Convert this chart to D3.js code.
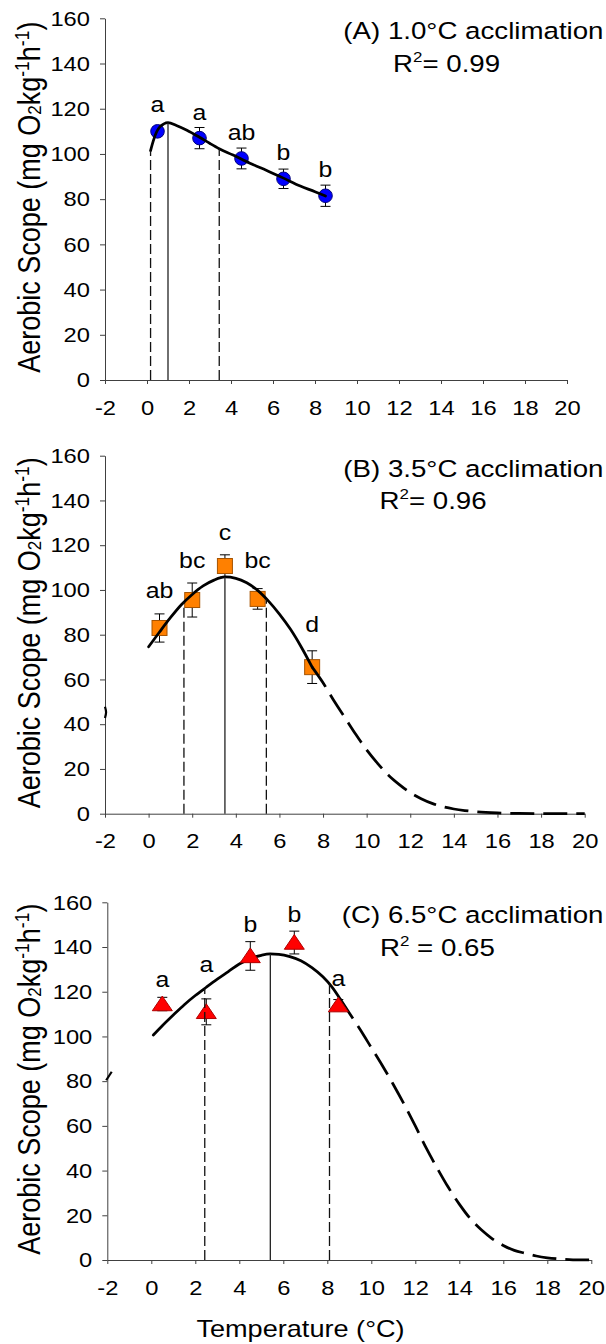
<!DOCTYPE html>
<html>
<head>
<meta charset="utf-8">
<script src="https://cdn.jsdelivr.net/npm/d3@7"></script>
<style>
  html, body { margin: 0; padding: 0; background: #fff; }
  svg { display: block; }
</style>
</head>
<body>
<svg id="chart" width="606" height="1344"></svg>
<script>
// ---------- axis ticks ----------
const tempTicks = [-2, 0, 2, 4, 6, 8, 10, 12, 14, 16, 18, 20];
const scopeTicks = [0, 20, 40, 60, 80, 100, 120, 140, 160];

// ---------- panel texts ----------
const panelTitles = ["(A) 1.0°C acclimation", "(B) 3.5°C acclimation", "(C) 6.5°C acclimation"];
const rSquared = ["0.99", "0.96", "0.65"];

// ---------- (A) 1.0 °C acclimation ----------
const tempA = [0.5, 2.5, 4.5, 6.5, 8.5];
const scopeA = [110, 107, 98, 89, 81.5];
const errA = [2, 4.7, 4.6, 4.3, 4.7];
const lettersA = ["a", "a", "ab", "b", "b"];
const letterAtA = [118.7, 115, 106.2, 97.3, 89.7];
const fitA = [[0.17, 101.5], [0.3, 105.8], [0.46, 109.8], [0.62, 112.1], [0.8, 113.3], [1.0, 113.8],
  [1.4, 112.6], [1.9, 110.5], [2.5, 107.4], [3.0, 104.6], [3.44, 102.3], [4.1, 99.5], [4.9, 95.9],
  [5.7, 92.7], [6.5, 89.3], [7.3, 85.8], [8.0, 83.3], [8.5, 81.4]];
const limitsA = [0.17, 1.0, 3.44]; // lower breadth, optimum, upper breadth

// ---------- (B) 3.5 °C acclimation ----------
const tempB = [0.5, 2.0, 3.5, 5.0, 7.5];
const scopeB = [83, 95.5, 110.7, 96, 65.5];
const errB = [6.3, 7.6, 5, 4.6, 7.3];
const lettersB = ["ab", "bc", "c", "bc", "d"];
const letterAtB = [96.3, 109.7, 122.3, 109.7, 81.3];
const fitB = [[0, 74.6], [0.5, 81.2], [1.0, 87.6], [1.5, 93.4], [2.0, 98.0], [2.5, 101.8], [3.0, 104.4],
  [3.5, 105.8], [4.0, 105.2], [4.5, 103.2], [5.0, 99.8], [5.5, 95.0], [6.0, 89.2], [6.5, 82.5],
  [7.0, 74.5], [7.5, 65.5]];
const tailB = [[7.5, 65.5], [8.0, 58.5], [8.5, 50.5], [9.0, 43], [9.5, 35.5], [10.0, 28.5], [10.5, 22.5],
  [11.0, 17.2], [11.5, 13], [12.0, 9.4], [12.5, 6.7], [13.0, 4.6], [13.5, 3.1], [14.0, 2.1], [14.5, 1.4],
  [15.0, 0.9], [16.0, 0.35], [17.0, 0.1], [18.0, 0], [20.0, 0]];
const edgeB = [[-2.0, 42.8], [-1.95, 45.3], [-2.0, 47.8]];
const limitsB = [1.62, 3.5, 5.4];

// ---------- (C) 6.5 °C acclimation ----------
const tempC = [0.5, 2.5, 4.5, 6.5, 8.5];
const scopeC = [114.5, 111, 136, 142, 114];
const errC = [3, 5.8, 6.4, 5.1, 2.5];
const lettersC = ["a", "a", "b", "b", "a"];
const letterAtC = [122, 129, 146.9, 151.3, 122.6];
const fitC = [[0.09, 100.6], [0.5, 104.8], [1.0, 109.6], [1.5, 114.2], [2.0, 118.3], [2.5, 122], [3.0, 125.6],
  [3.5, 129], [4.0, 132.4], [4.5, 134.8], [5.0, 136.3], [5.4, 136.9], [5.8, 136.7], [6.3, 135.7],
  [6.8, 133.9], [7.3, 130.8], [7.8, 126.7], [8.2, 122.3], [8.57, 117]];
const tailC = [[8.57, 117], [9.0, 110.5], [9.5, 103], [10, 95], [10.5, 87], [11, 78.5], [11.5, 69.5], [12, 60],
  [12.5, 50], [13, 41], [13.5, 32.5], [14, 25], [14.5, 18.5], [15, 13.5], [15.5, 9.5], [16, 6.5],
  [16.5, 4.3], [17, 3], [17.5, 1.8], [18, 1.0], [18.5, 0.5], [19, 0.2], [19.9, 0]];
const edgeC = [[-2.05, 80.4], [-1.8, 84.2]];
const limitsC = [2.43, 5.41, 8.1];

// ---------- layout & style ----------
const FONT = '"Liberation Sans", Arial, Helvetica, sans-serif';
const SX = 1.13;          // horizontal text stretch
const AXIS = "#404040";

const panels = [
  { temps: tempA, scope: scopeA, err: errA, letters: lettersA, letterAt: letterAtA,
    fit: fitA, tail: null, edge: null, limits: limitsA, title: panelTitles[0], r2: rSquared[0], r2gap: "",
    marker: "circle", fill: "#0000ff", stroke: "#00007a",
    box: { left: 105, right: 567, top: 18.3, bottom: 380 }, r2x: 393, markersOverCurve: false },
  { temps: tempB, scope: scopeB, err: errB, letters: lettersB, letterAt: letterAtB,
    fit: fitB, tail: tailB, edge: edgeB, limits: limitsB, title: panelTitles[1], r2: rSquared[1], r2gap: "",
    marker: "square", fill: "#ff8000", stroke: "#a65300",
    box: { left: 105, right: 584.7, top: 455.7, bottom: 813.7 }, r2x: 379.5, markersOverCurve: false },
  { temps: tempC, scope: scopeC, err: errC, letters: lettersC, letterAt: letterAtC,
    fit: fitC, tail: tailC, edge: edgeC, limits: limitsC, title: panelTitles[2], r2: rSquared[2], r2gap: " ",
    marker: "triangle", fill: "#ff0000", stroke: "#b00000",
    box: { left: 107.3, right: 591.3, top: 902.3, bottom: 1260 }, r2x: 380, markersOverCurve: true }
];

// value of a fitted curve at x (linear between listed points)
function fitAt(pts, xv) {
  for (let i = 1; i < pts.length; i++) {
    if (xv <= pts[i][0]) {
      const [x0, y0] = pts[i - 1], [x1, y1] = pts[i];
      return y0 + (y1 - y0) * (xv - x0) / (x1 - x0);
    }
  }
  return pts[pts.length - 1][1];
}

const svg = d3.select("#chart");

panels.forEach(p => {
  const x = d3.scaleLinear().domain([-2, 20]).range([p.box.left, p.box.right]);
  const y = d3.scaleLinear().domain([0, 160]).range([p.box.bottom, p.box.top]);
  const g = svg.append("g");

  // axes
  const gx = g.append("g")
    .attr("transform", `translate(0,${p.box.bottom})`)
    .call(d3.axisBottom(x).tickValues(tempTicks).tickFormat(d => String(d)).tickSizeInner(4).tickSizeOuter(0));
  const gy = g.append("g")
    .attr("transform", `translate(${p.box.left},0)`)
    .call(d3.axisLeft(y).tickValues(scopeTicks).tickFormat(d => String(d)).tickSizeInner(5).tickSizeOuter(0));
  [gx, gy].forEach(a => {
    a.attr("font-family", FONT).attr("font-size", 21);
    a.select(".domain").attr("stroke", AXIS).attr("stroke-width", 1);
    a.selectAll(".tick line").attr("stroke", AXIS).attr("stroke-width", 1);
    a.selectAll(".tick text").attr("fill", "#000");
  });
  gx.selectAll(".tick text").attr("y", null).attr("dy", null)
    .attr("transform", `translate(0,34.5) scale(${SX},1)`);
  gy.selectAll(".tick text").attr("x", null)
    .attr("transform", `translate(-15,0) scale(${SX},1)`);

  // y-axis title
  const cy = (p.box.top + p.box.bottom) / 2 - 2;
  const yt = g.append("text")
    .attr("transform", `translate(39.5,${cy}) scale(${SX},1) rotate(-90)`)
    .attr("text-anchor", "middle")
    .attr("font-family", FONT).attr("font-size", 27).attr("fill", "#000");
  yt.append("tspan").text("Aerobic Scope (mg O");
  yt.append("tspan").attr("font-size", 17).attr("dy", 1).text("2");
  yt.append("tspan").attr("dy", -1).text("kg");
  yt.append("tspan").attr("font-size", 17.5).attr("dy", -9).text("-1");
  yt.append("tspan").attr("dy", 9).text("h");
  yt.append("tspan").attr("font-size", 17.5).attr("dy", -9).text("-1");
  yt.append("tspan").attr("dy", 9).text(")");

  // panel heading and R²
  g.append("text")
    .attr("transform", `translate(603.5,${p.box.top + 21}) scale(${SX},1)`)
    .attr("text-anchor", "end")
    .attr("font-family", FONT).attr("font-size", 24.5).attr("fill", "#000")
    .text(p.title);
  const rt = g.append("text")
    .attr("transform", `translate(${p.r2x},${p.box.top + 53.6}) scale(${SX},1)`)
    .attr("font-family", FONT).attr("font-size", 24.5).attr("fill", "#000");
  rt.append("tspan").text("R");
  rt.append("tspan").attr("font-size", 15).attr("dy", -10).text("2");
  rt.append("tspan").attr("dy", 10).text(`${p.r2gap}= ${p.r2}`);

  const line = d3.line().x(d => x(d[0])).y(d => y(d[1])).curve(d3.curveMonotoneX);

  const drawCurve = () => {
    g.append("path").datum(p.fit).attr("d", line)
      .attr("fill", "none").attr("stroke", "#000").attr("stroke-width", 2.75)
      .attr("stroke-linecap", "round").attr("stroke-linejoin", "round");
    if (p.tail) {
      g.append("path").datum(p.tail).attr("d", line)
        .attr("fill", "none").attr("stroke", "#000").attr("stroke-width", 2.75)
        .attr("stroke-dasharray", "24,9");
    }
    if (p.edge) {
      g.append("path").datum(p.edge)
        .attr("d", d3.line().x(d => x(d[0])).y(d => y(d[1])).curve(d3.curveCardinal))
        .attr("fill", "none").attr("stroke", "#000").attr("stroke-width", 2.2);
    }
  };

  // error bars
  const eb = g.append("g").attr("stroke", "#000").attr("stroke-width", 1);
  p.temps.forEach((t, i) => {
    const cx = x(t), yTop = y(p.scope[i] + p.err[i]), yBot = y(p.scope[i] - p.err[i]);
    eb.append("line").attr("x1", cx).attr("x2", cx).attr("y1", yTop).attr("y2", yBot);
    eb.append("line").attr("x1", cx - 5).attr("x2", cx + 5).attr("y1", yTop).attr("y2", yTop);
    eb.append("line").attr("x1", cx - 5).attr("x2", cx + 5).attr("y1", yBot).attr("y2", yBot);
  });

  if (p.markersOverCurve) drawCurve();

  // markers
  const mk = g.append("g").attr("fill", p.fill).attr("stroke", p.stroke).attr("stroke-width", 1);
  p.temps.forEach((t, i) => {
    const cx = x(t), cyv = y(p.scope[i]);
    if (p.marker === "circle") {
      mk.append("circle").attr("cx", cx).attr("cy", cyv).attr("r", 6.8);
    } else if (p.marker === "square") {
      mk.append("rect").attr("x", cx - 7.5).attr("y", cyv - 7.5).attr("width", 15).attr("height", 15);
    } else {
      mk.append("path").attr("d", `M${cx},${cyv - 8}L${cx + 10},${cyv + 6.7}L${cx - 10},${cyv + 6.7}Z`);
    }
  });

  if (!p.markersOverCurve) drawCurve();

  // optimum (solid) and breadth limits (dashed)
  p.limits.forEach((lv, i) => {
    g.append("line")
      .attr("x1", x(lv)).attr("x2", x(lv))
      .attr("y1", y(0)).attr("y2", y(fitAt(p.fit, lv)))
      .attr("stroke", i === 1 ? "#222" : "#111")
      .attr("stroke-width", i === 1 ? 1.3 : 1.3)
      .attr("stroke-dasharray", i === 1 ? null : "10,4");
  });

  // significance letters
  p.letters.forEach((s, i) => {
    g.append("text")
      .attr("transform", `translate(${x(p.temps[i])},${y(p.letterAt[i])}) scale(${SX},1)`)
      .attr("text-anchor", "middle")
      .attr("font-family", FONT).attr("font-size", 22).attr("fill", "#000")
      .text(s);
  });
});

// shared x-axis title
svg.append("text")
  .attr("transform", `translate(300.5,1337) scale(${SX},1)`)
  .attr("text-anchor", "middle")
  .attr("font-family", FONT).attr("font-size", 24).attr("fill", "#000")
  .text("Temperature (°C)");
</script>
</body>
</html>
